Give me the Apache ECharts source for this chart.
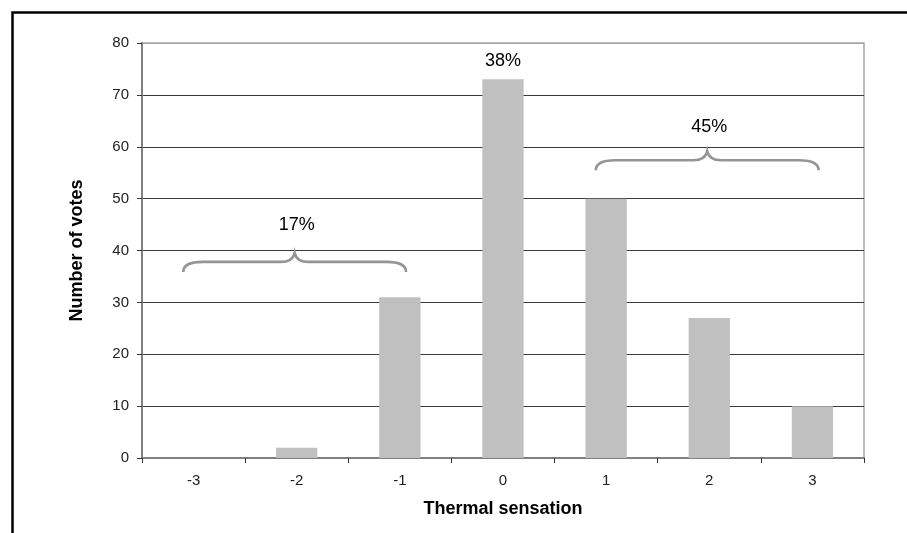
<!DOCTYPE html>
<html>
<head>
<meta charset="utf-8">
<script src="https://cdn.jsdelivr.net/npm/echarts@6/dist/echarts.min.js"></script>
<style>
html,body{margin:0;padding:0;background:#fff;}
#chart{width:907px;height:533px;}
</style>
</head>
<body>
<div id="chart"></div>
<script>
// ---- data ----
const categories = ['-3', '-2', '-1', '0', '1', '2', '3'];
const votes = [0, 2, 31, 73, 50, 27, 10];
const yTicks = [0, 10, 20, 30, 40, 50, 60, 70, 80];
const peakLabel = '38%';           // label above the "0" bar
const braceFrom = [-3, 1];         // first sensation value spanned by each brace
const braceTo = [-1, 3];           // last sensation value spanned by each brace
const braceLevel = [37.8, 57.4];   // vote level of each brace's straight part
const braceLabelLevel = [45, 63.8];
const braceLabels = ['17%', '45%'];

const FONT = '"Liberation Sans", Arial, sans-serif';
const chart = echarts.init(document.getElementById('chart'));

const barData = votes.map((v, i) => categories[i] === '0'
  ? { value: v, label: { show: true, position: 'top', distance: 9, formatter: peakLabel,
      color: '#000', fontSize: 18, fontFamily: FONT } }
  : v);

const braceData = braceFrom.map((f, i) => [f, braceTo[i], braceLevel[i], braceLabelLevel[i], i]);

const splitColors = yTicks.map((t, i) => i === yTicks.length - 1 ? '#a6a6a6' : '#3a3a3a');

chart.setOption({
  animation: false,
  backgroundColor: '#fff',
  textStyle: { fontFamily: FONT },
  graphic: [{
    type: 'rect', left: 10, top: 10, z: 100, silent: true,
    shape: { width: 1200, height: 1200 },
    style: { fill: null, stroke: '#000', lineWidth: 2.5 }
  }],
  grid: { left: 142, right: 43, top: 43, bottom: 75, show: true,
    borderColor: '#a6a6a6', borderWidth: 1.5, backgroundColor: 'transparent' },
  xAxis: [{
    type: 'category', data: categories,
    name: 'Thermal sensation', nameLocation: 'middle', nameGap: 42,
    nameTextStyle: { fontWeight: 'bold', fontSize: 18, color: '#000', fontFamily: FONT },
    axisLine: { onZero: false, lineStyle: { color: '#808080', width: 2 } },
    axisTick: { show: true, length: 5, lineStyle: { color: '#333', width: 1 } },
    axisLabel: { color: '#222', fontSize: 15, margin: 15, fontFamily: FONT },
    splitLine: { show: false }
  }, {
    type: 'value', min: -3.5, max: 3.5, show: false
  }],
  yAxis: {
    type: 'value', min: yTicks[0], max: yTicks[yTicks.length - 1], interval: 10,
    name: 'Number of votes', nameLocation: 'middle', nameGap: 56, nameRotate: 90,
    nameTextStyle: { fontWeight: 'bold', fontSize: 18, color: '#000', fontFamily: FONT },
    axisLine: { show: true, onZero: false, lineStyle: { color: '#808080', width: 2 } },
    axisTick: { show: true, inside: false, length: 5, lineStyle: { color: '#333', width: 1 } },
    axisLabel: { color: '#222', fontSize: 15, margin: 13, fontFamily: FONT },
    splitLine: { show: true, lineStyle: { color: splitColors, width: 1 } }
  },
  series: [{
    type: 'bar', data: barData, barWidth: '40%',
    itemStyle: { color: '#c0c0c0' }, z: 3
  }, {
    type: 'custom', xAxisIndex: 1, yAxisIndex: 0, data: braceData, z: 5, silent: true,
    renderItem: function (params, api) {
      const a = api.coord([api.value(0), api.value(2)]);
      const b = api.coord([api.value(1), api.value(2)]);
      const band = api.size([1, 0])[0];
      const lab = api.coord([(api.value(0) + api.value(1)) / 2, api.value(3)]);
      const x0 = a[0] - 0.1 * band, x1 = b[0] + 0.06 * band;
      const xc = (x0 + x1) / 2, y = a[1];
      const r = 14, up = 9, down = 10;
      const d = 'M' + x0 + ' ' + (y + down) +
        ' Q' + x0 + ' ' + y + ' ' + (x0 + r * 1.4) + ' ' + y +
        ' L' + (xc - r) + ' ' + y +
        ' Q' + (xc - 2) + ' ' + y + ' ' + xc + ' ' + (y - up) +
        ' Q' + (xc + 2) + ' ' + y + ' ' + (xc + r) + ' ' + y +
        ' L' + (x1 - r * 1.4) + ' ' + y +
        ' Q' + x1 + ' ' + y + ' ' + x1 + ' ' + (y + down);
      return {
        type: 'group',
        children: [{
          type: 'path',
          shape: { pathData: d },
          style: { fill: null, stroke: '#959595', lineWidth: 2.6 }
        }, {
          type: 'text',
          x: lab[0], y: lab[1],
          style: { text: braceLabels[api.value(4)], fill: '#000', fontSize: 18,
            fontFamily: FONT, align: 'center', verticalAlign: 'middle' }
        }]
      };
    }
  }]
});
</script>
</body>
</html>
